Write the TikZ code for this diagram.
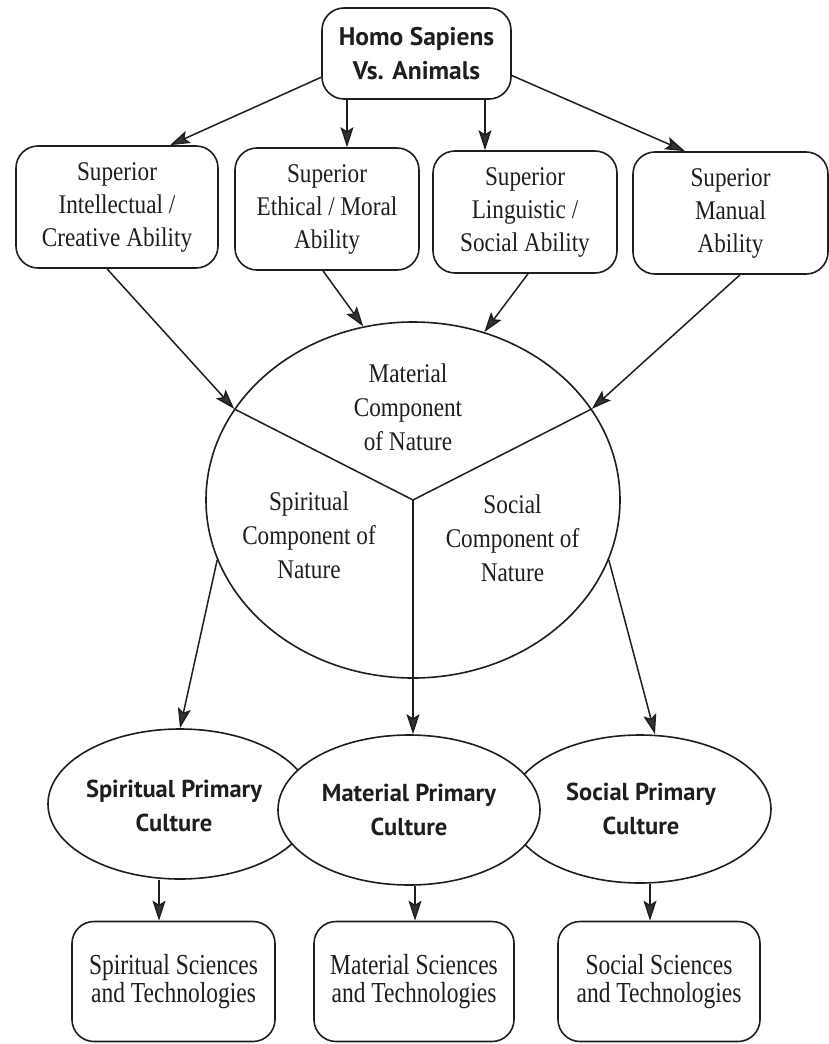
\documentclass[tikz,border=0pt]{standalone}
\usepackage{fontspec}
\setmainfont{Liberation Serif}
\newfontfamily\labelserif[FakeStretch=0.86]{Liberation Serif}
\newfontfamily\bottomserif[FakeStretch=0.81]{Liberation Serif}
\newfontfamily\headsans{PT Sans}
\usetikzlibrary{shapes.geometric,arrows.meta}

\definecolor{ink}{HTML}{1E1E1E}
\definecolor{tipc}{HTML}{333333}

\begin{document}
\begin{tikzpicture}[x=1pt,y=-1pt,
  every node/.style={text=ink},
  rbox/.style={draw=ink, line width=1.6pt, rounded corners=22pt, inner sep=0pt, align=center},
  oval/.style={draw=ink, line width=1.6pt, ellipse, inner sep=0pt, fill=white},
  abil/.style={rbox, font=\labelserif\fontsize{27}{33}\selectfont, minimum height=122pt},
  sci/.style={rbox, font=\bottomserif\fontsize{29}{28}\selectfont, minimum height=120pt},
  heavy/.style={font=\headsans\bfseries\fontsize{25.5}{34}\selectfont},
  culture/.style={font=\headsans\bfseries\fontsize{24.5}{34}\selectfont, align=center, inner sep=0pt},
  comp/.style={font=\labelserif\fontsize{27}{34}\selectfont, align=center, inner sep=0pt},
  link/.style={draw=ink, line width=1.5pt, -{Stealth[length=20pt,width=13pt,inset=4pt,fill=tipc]}},
  split/.style={draw=ink, line width=1.5pt}]

\useasboundingbox (0,0) rectangle (829,1044);
\fill[white] (0,0) rectangle (829,1044);

% root
\node[rbox, heavy, minimum width=189pt, minimum height=91pt] (top) at (416.5,53.5) {Homo Sapiens\\Vs. Animals};

% abilities
\node[abil, minimum width=202pt] (intel)  at (117,207)   {Superior\\Intellectual /\\Creative Ability};
\node[abil, minimum width=184pt] (ethic)  at (327,209)   {Superior\\Ethical / Moral\\Ability};
\node[abil, minimum width=184pt] (ling)   at (525,212)   {Superior\\Linguistic /\\Social Ability};
\node[abil, minimum width=195pt] (manual) at (730.5,213) {Superior\\Manual\\Ability};

% components of nature
\node[oval, minimum width=414pt, minimum height=356pt] (nature) at (413,500) {};
\draw[split] (nature.center) -- (nature.153);
\draw[split] (nature.center) -- (nature.27);
\node[comp] (matcomp) at (408,407) {Material\\Component\\of Nature};
\node[comp] (spicomp) at (309,535) {Spiritual\\Component of\\Nature};
\node[comp] (soccomp) at (512.5,538) {Social\\Component of\\Nature};

% primary cultures (material one drawn last, on top)
\node[oval, minimum width=264pt, minimum height=150pt] (spc) at (180,804) {};
\node[oval, minimum width=262pt, minimum height=148pt] (soc) at (640,809) {};
\node[oval, minimum width=262pt, minimum height=150pt] (mpc) at (409,810) {};
\node[culture] (spctext) at (174,806) {Spiritual Primary\\Culture};
\node[culture] (soctext) at (641,809) {Social Primary\\Culture};
\node[culture] (mpctext) at (409,810) {Material Primary\\Culture};

% sciences and technologies
\node[sci, minimum width=203pt] (sst) at (173.5,981.5) {Spiritual Sciences\\and Technologies};
\node[sci, minimum width=200pt] (mst) at (414,981.5)   {Material Sciences\\and Technologies};
\node[sci, minimum width=202pt] (ost) at (659,981.5)   {Social Sciences\\and Technologies};

% root to abilities
\draw[link] (top.194) -- ([xshift=53pt]intel.north);
\draw[link] ([xshift=-69.5pt]top.south) -- ([xshift=20pt]ethic.north);
\draw[link] ([xshift=68.5pt]top.south) -- ([xshift=-40pt]ling.north);
\draw[link] (top.347) -- ([xshift=-45.5pt]manual.north);

% abilities to nature
\draw[link] ([xshift=-10pt]intel.south) -- (nature.153);
\draw[link] ([xshift=-4pt]ethic.south) -- (nature.106);
\draw[link] ([xshift=3pt]ling.south) -- (nature.67);
\draw[link] ([xshift=9.5pt]manual.south) -- (nature.27);

% nature to primary cultures
\draw[link] (nature.197) -- (spc.north);
\draw[link] (nature.center) -- (nature.center |- mpc.north);
\draw[link] (nature.343) -- ([xshift=15pt]soc.north);

% primary cultures to sciences
\draw[link] ([xshift=-21pt]spc.south) -- ([xshift=-14.5pt]sst.north);
\draw[link] ([xshift=6pt]mpc.south) -- ([xshift=1pt]mst.north);
\draw[link] ([xshift=10pt]soc.south) -- ([xshift=-9pt]ost.north);
\end{tikzpicture}
\end{document}
